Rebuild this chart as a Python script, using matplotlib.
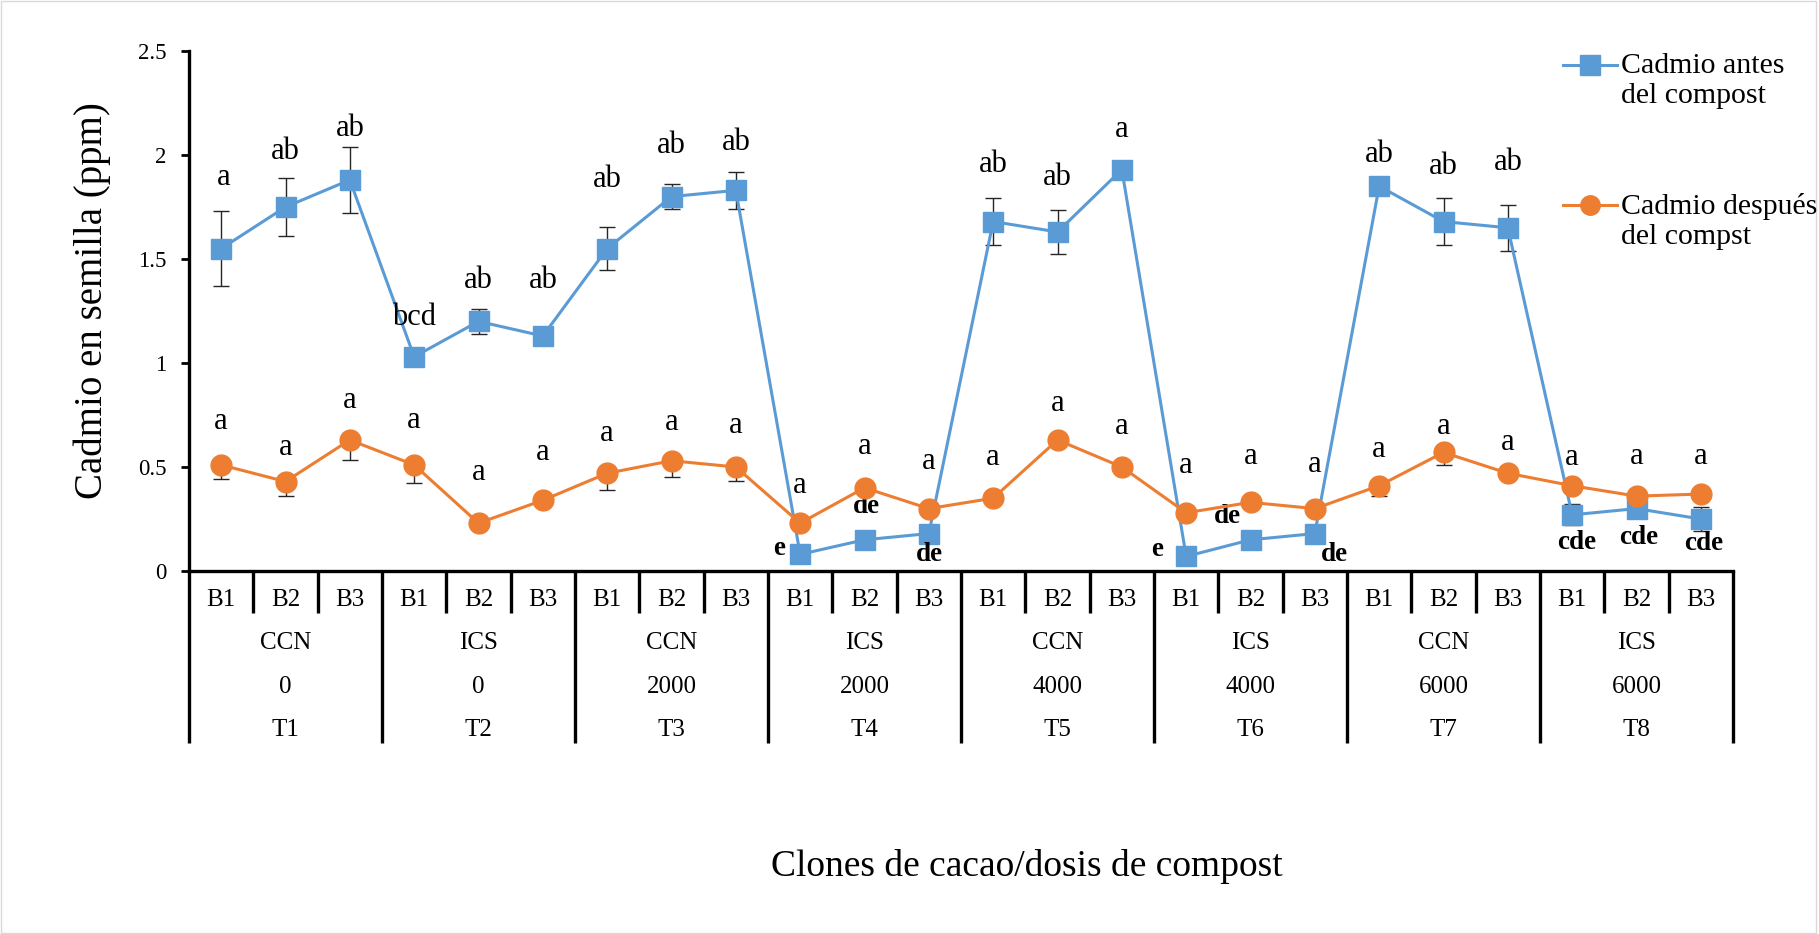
import numpy as np
import matplotlib.pyplot as plt
from matplotlib.lines import Line2D
from matplotlib.patches import Rectangle

plt.rcParams['font.family'] = ['Liberation Serif', 'DejaVu Serif']

# Cadmium in seed (ppm), 8 treatments x 3 blocks
blocks = ['B1', 'B2', 'B3'] * 8
clones = ['CCN', 'ICS', 'CCN', 'ICS', 'CCN', 'ICS', 'CCN', 'ICS']
doses = ['0', '0', '2000', '2000', '4000', '4000', '6000', '6000']
treatments = ['T1', 'T2', 'T3', 'T4', 'T5', 'T6', 'T7', 'T8']

antes = [1.55, 1.75, 1.88, 1.03, 1.20, 1.13, 1.55, 1.80, 1.83, 0.08, 0.15, 0.18,
         1.68, 1.63, 1.93, 0.07, 0.15, 0.18, 1.85, 1.68, 1.65, 0.27, 0.30, 0.25]
antes_err = [0.18, 0.14, 0.16, 0.03, 0.06, 0.03, 0.105, 0.06, 0.09, 0.02, 0.02, 0.02,
             0.115, 0.105, 0.03, 0.02, 0.02, 0.02, 0.03, 0.115, 0.11, 0.05, 0.02, 0.06]
despues = [0.51, 0.43, 0.63, 0.51, 0.23, 0.34, 0.47, 0.53, 0.50, 0.23, 0.40, 0.30,
           0.35, 0.63, 0.50, 0.28, 0.33, 0.30, 0.41, 0.57, 0.47, 0.41, 0.36, 0.37]
despues_err = [0.07, 0.07, 0.095, 0.085, 0.02, 0.02, 0.08, 0.08, 0.065, 0.02, 0.02, 0.02,
               0.02, 0.02, 0.03, 0.02, 0.02, 0.02, 0.05, 0.06, 0.02, 0.02, 0.02, 0.02]

letras_antes = ['a', 'ab', 'ab', 'bcd', 'ab', 'ab', 'ab', 'ab', 'ab', 'e', 'de', 'de',
                'ab', 'ab', 'a', 'e', 'de', 'de', 'ab', 'ab', 'ab', 'cde', 'cde', 'cde']
letras_despues = ['a'] * 24

# label offsets in pixels (dx, dy)
off_antes = [(3, 34), (0, 26), (0, 18), (0, 29), (0, 28), (0, 45), (0, 47), (0, 39), (0, 29),
             (-21, 6), (2, 33), (1, -21), (0, 33), (0, 33), (0, 30), (-29, 7), (-23, 23), (20, -21),
             (0, 21), (0, 31), (0, 42), (5, -28), (2, -29), (3, -25)]
off_despues = [43, 34, 39, 44, 51, 48, 40, 38, 41, 38, 41, 47,
               41, 36, 40, 47, 46, 44, 36, 26, 31, 28, 40, 38]

azul = '#5B9BD5'
naranja = '#ED7D31'
x = np.arange(len(antes))

fig = plt.figure(figsize=(18.19, 9.34), dpi=100)
ax = fig.add_axes([189 / 1819, 1 - 571 / 934, 1544 / 1819, 520 / 934])

# error bars (blue both ways, orange only downward)
ax.errorbar(x, antes, yerr=antes_err, fmt='none', ecolor='#262626', elinewidth=1.0,
            capsize=6, capthick=1.0, zorder=2)
ax.errorbar(x, despues, yerr=[despues_err, np.zeros(len(despues))], fmt='none',
            ecolor='#262626', elinewidth=1.0, capsize=6, capthick=1.0, zorder=2)

ax.plot(x, antes, color=azul, lw=2.2, marker='s', ms=14, mec=azul, zorder=3)
ax.plot(x, despues, color=naranja, lw=2.2, marker='o', ms=15, mec=naranja, zorder=5)

for i, (lt, (dx, dy)) in enumerate(zip(letras_antes, off_antes)):
    bold = lt in ('e', 'de', 'cde')
    if dy > 0 and not bold:
        y0 = antes[i] + max(antes_err[i], 0.05)
    else:
        y0 = antes[i]
    ax.annotate(lt, (x[i], y0), xytext=(dx, dy), textcoords='offset pixels',
                ha='center', va='center', fontsize=19.5 if bold else 22,
                fontweight='bold' if bold else 'normal', zorder=4)

for i, (lt, dy) in enumerate(zip(letras_despues, off_despues)):
    ax.annotate(lt, (x[i], despues[i]), xytext=(0, dy), textcoords='offset pixels',
                ha='center', va='center', fontsize=22, zorder=4)

ax.set_xlim(-0.5, 23.5)
ax.set_ylim(0, 2.5)
ax.set_yticks([0, 0.5, 1, 1.5, 2, 2.5])
ax.set_yticklabels(['0', '0.5', '1', '1.5', '2', '2.5'], fontsize=16.5)
ax.tick_params(axis='y', direction='out', length=6, width=2, pad=10)
ax.set_xticks([])
for s in ['top', 'right']:
    ax.spines[s].set_visible(False)
ax.spines['left'].set_linewidth(2.4)
ax.spines['bottom'].set_linewidth(2.4)

fig.text(92 / 1819, 1 - 301 / 934, 'Cadmio en semilla (ppm)', rotation=90,
         ha='center', va='center', fontsize=28)

# multi-level category axis
tr = ax.get_xaxis_transform()
h = 520.0
row_b = -29 / h
rows = [-72 / h, -116 / h, -159 / h]
bottom_b = -42 / h
bottom_g = -172 / h
for i in range(len(blocks) + 1):
    xb = i - 0.5
    yb = bottom_g if i % 3 == 0 else bottom_b
    ax.add_line(Line2D([xb, xb], [0, yb], transform=tr, color='black', lw=2.4,
                       clip_on=False, solid_capstyle='butt'))
for i, b in enumerate(blocks):
    ax.text(x[i], row_b, b, transform=tr, ha='center', va='center', fontsize=18)
for g in range(8):
    xc = 3 * g + 1
    for r, labs in zip(rows, [clones, doses, treatments]):
        ax.text(xc, r, labs[g], transform=tr, ha='center', va='center', fontsize=18)

fig.text(1027 / 1819, 1 - 867 / 934, 'Clones de cacao/dosis de compost',
         ha='center', va='center', fontsize=27)

# legend
leg = [(azul, 's', 65, 'Cadmio antes\ndel compost'),
       (naranja, 'o', 205, 'Cadmio después\ndel compst')]
for col, mk, yp, txt in leg:
    yf = 1 - yp / 934
    fig.add_artist(Line2D([1563 / 1819, 1617 / 1819], [yf, yf], color=col, lw=2.2,
                          transform=fig.transFigure))
    fig.add_artist(Line2D([1590 / 1819], [yf], color=col, marker=mk, ms=14,
                          mec=col, transform=fig.transFigure))
    fig.text(1621 / 1819, yf + 12 / 934, txt, ha='left', va='top', fontsize=21.5,
             linespacing=1.2)

fig.add_artist(Rectangle((0.0005, 0.001), 0.998, 0.998, transform=fig.transFigure,
                         fill=False, edgecolor='#D9D9D9', lw=1))

fig.savefig('out.png', dpi=100, facecolor='white')
